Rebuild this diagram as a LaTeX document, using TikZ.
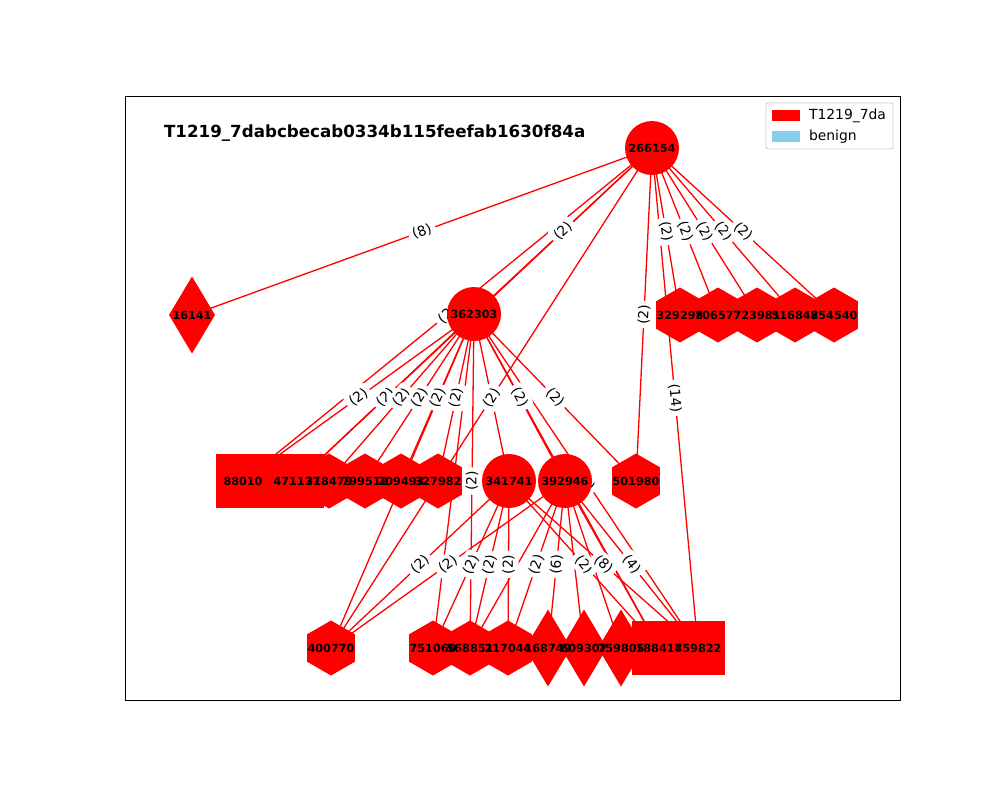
\documentclass[tikz,border=0pt]{standalone}
\usepackage{fontspec}
\setmainfont{DejaVu Sans}
\usetikzlibrary{shapes.geometric,backgrounds}
\definecolor{skyblue}{HTML}{87CEEB}
\definecolor{legframe}{gray}{0.8}

\begin{document}
\begin{tikzpicture}[x=1pt,y=-1pt,
    every node/.style={inner sep=0pt,outer sep=0pt},
    circ/.style={circle,fill=red,minimum size=54pt},
    hexa/.style={regular polygon,regular polygon sides=6,shape border rotate=30,
                 fill=red,minimum size=55pt},
    sqr/.style={rectangle,fill=red,minimum size=54pt},
    dia/.style={diamond,fill=red,minimum width=46pt,minimum height=77pt},
    nlbl/.style={font=\fontsize{11.2}{12}\selectfont\bfseries},
    edge/.style={draw=red,line width=1.3pt},
    wlbl/.style={sloped,fill=white,rounded corners=4pt,inner sep=3.8pt,
                 font=\fontsize{13.9}{15}\selectfont},
    keyfont/.style={anchor=west,font=\fontsize{13.9}{15}\selectfont},
]
    \useasboundingbox (0,0) rectangle (1000,800);
    \draw[line width=1pt] (125,96) rectangle (900,700);

    % nodes (shapes only, ids go on top later)
    \node[circ] (n266154) at (652,148) {};
    \node[dia]  (n16141)  at (192,315) {};
    \node[circ] (n362303) at (474,314) {};
    \node[hexa] (n329298) at (680,315) {};
    \node[hexa] (n706577) at (718,315) {};
    \node[hexa] (n723981) at (757,315) {};
    \node[hexa] (n516848) at (795,315) {};
    \node[hexa] (n254540) at (834,315) {};
    \node[sqr]  (n88010)  at (243,481) {};
    \node[sqr]  (n471127) at (297,481) {};
    \node[hexa] (n318479) at (329,481) {};
    \node[hexa] (n799512) at (365,481) {};
    \node[hexa] (n209493) at (401,481) {};
    \node[hexa] (n327982) at (438,481) {};
    \node[circ] (n341741) at (509,481) {};
    \node[circ] (n392946) at (565,481) {};
    \node[hexa] (n501980) at (636,481) {};
    \node[hexa] (n400770) at (331,648) {};
    \node[hexa] (n751060) at (433,648) {};
    \node[hexa] (n568851) at (470,648) {};
    \node[hexa] (n217044) at (508,648) {};
    \node[dia]  (n168749) at (548,648) {};
    \node[dia]  (n609307) at (584,648) {};
    \node[dia]  (n759805) at (621,648) {};
    \node[sqr]  (n188417) at (659,648) {};
    \node[sqr]  (n459822) at (698,648) {};

    \foreach \id in {266154,16141,362303,329298,706577,723981,516848,254540,
                     88010,471127,318479,799512,209493,327982,341741,392946,501980,
                     400770,751060,568851,217044,168749,609307,759805,188417,459822}
        \node[nlbl] at (n\id) {\id};

    \begin{scope}[on background layer]
        \foreach \a/\b in {266154/16141,266154/362303,266154/88010,266154/471127,
                           266154/400770,266154/329298,266154/706577,266154/723981,
                           266154/516848,266154/254540,266154/501980,266154/459822,
                           362303/88010,362303/471127,362303/318479,362303/799512,
                           362303/209493,362303/327982,362303/341741,362303/392946,
                           362303/501980,362303/568851,362303/459822,362303/400770,
                           362303/751060,362303/188417,
                           341741/400770,341741/751060,341741/568851,341741/217044,
                           341741/188417,341741/459822,
                           392946/400770,392946/568851,392946/217044,392946/168749,
                           392946/609307,392946/759805,392946/188417,392946/459822}
            \draw[edge] (n\a.center) -- (n\b.center);
        % weights
        \foreach \a/\b/\w in {266154/16141/8,266154/362303/2,266154/88010/2,
                              266154/329298/2,266154/706577/2,266154/723981/2,
                              266154/516848/2,266154/254540/2,266154/501980/2,
                              266154/459822/14,
                              362303/88010/2,362303/471127/2,362303/318479/2,
                              362303/799512/2,362303/209493/2,362303/327982/2,
                              266154/400770/2,362303/392946/2,362303/501980/2,
                              362303/568851/2,362303/459822/2,
                              341741/400770/2,392946/400770/2,341741/751060/2,
                              341741/568851/2,341741/217044/2,392946/217044/2,
                              392946/168749/6,341741/188417/2,341741/459822/8,
                              392946/459822/4}
            \path (n\a.center) -- node[wlbl] {(\w)} (n\b.center);
    \end{scope}

    \node[anchor=west,font=\fontsize{16.7}{18}\selectfont\bfseries] (title)
        at (164,133) {T1219\_7dabcbecab0334b115feefab1630f84a};

    % legend
    \node[draw=legframe,fill=white,rounded corners=2pt,line width=0.8pt,
          minimum width=127pt,minimum height=46pt] (legend) at (829.5,126) {};
    \node[fill=red,minimum width=28pt,minimum height=11pt] (keymal) at (786,115) {};
    \node[keyfont] (txtmal) at (809,115.5) {T1219\_7da};
    \node[fill=skyblue,minimum width=28pt,minimum height=11pt] (keyben) at (786,136) {};
    \node[keyfont] (txtben) at (809,136.5) {benign};
\end{tikzpicture}
\end{document}
